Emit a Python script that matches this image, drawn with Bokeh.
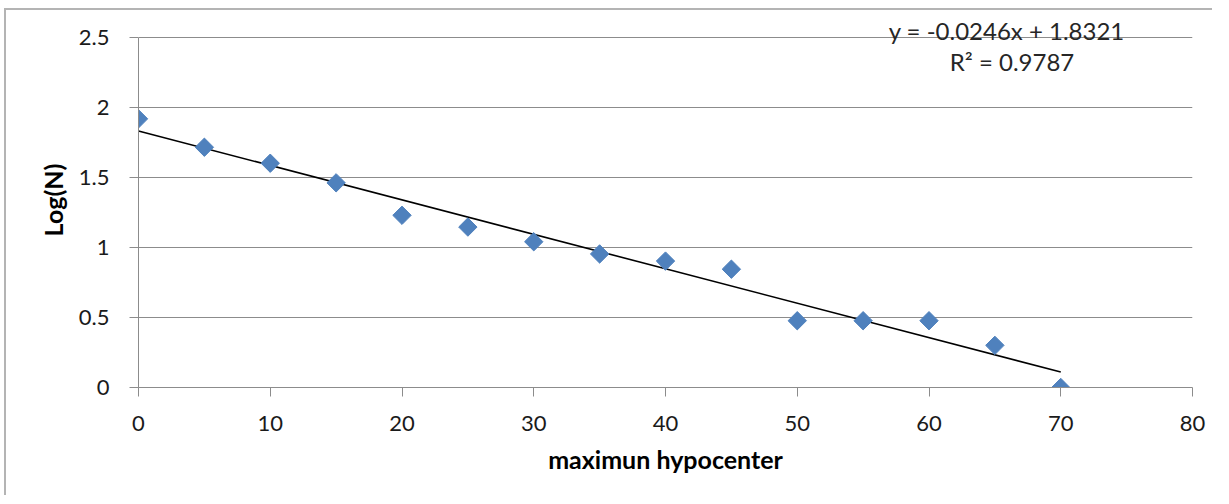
import numpy as np
from bokeh.plotting import figure
from bokeh.models import Label, Range1d, FixedTicker
from bokeh.embed import file_html
from bokeh.resources import INLINE

# ---- data ----
depth = [0, 5, 10, 15, 20, 25, 30, 35, 40, 45, 50, 55, 60, 65, 70]
log_n = [1.919, 1.716, 1.602, 1.462, 1.230, 1.146, 1.041, 0.954, 0.903,
         0.845, 0.477, 0.477, 0.477, 0.301, 0.0]
x_ticks = [0, 10, 20, 30, 40, 50, 60, 70, 80]
y_ticks = [0, 0.5, 1, 1.5, 2, 2.5]
y_labels = ["0", "0.5", "1", "1.5", "2", "2.5"]
slope = -0.0246
intercept = 1.8321
r_squared = 0.9787

FONT = "Lato"
TXT = "#1a1a1a"
GRID = "#8c8c8c"

Y_MAX = 2.5
Y_TOP = Y_MAX + 25 / 140  # extra head-room above the top gridline for the equation

p = figure(
    frame_width=1054, frame_height=375,
    min_border_left=132, min_border_right=20,
    min_border_top=2, min_border_bottom=108,
    x_range=Range1d(0, 80), y_range=Range1d(0, Y_TOP),
    output_backend="svg", toolbar_location=None,
    background_fill_color="white", border_fill_color="white",
    styles={"border-left": "2px solid #b4b4b4", "border-top": "2px solid #b4b4b4",
            "margin-left": "4px", "margin-top": "8px"},
)
p.outline_line_color = None

p.xgrid.grid_line_color = None
p.ygrid.grid_line_color = GRID
p.ygrid.grid_line_width = 1

for ax in (p.xaxis[0], p.yaxis[0]):
    ax.axis_line_color = GRID
    ax.axis_line_width = 1
    ax.major_tick_line_color = GRID
    ax.major_tick_in = 0
    ax.major_tick_out = 9
    ax.minor_tick_line_color = None
    ax.major_label_text_font = FONT
    ax.major_label_text_font_size = "22px"
    ax.major_label_text_color = TXT
    ax.axis_label_text_font = FONT
    ax.axis_label_text_font_size = "25px"
    ax.axis_label_text_font_style = "bold"
    ax.axis_label_text_color = "#000000"

p.xaxis.ticker = FixedTicker(ticks=x_ticks)
p.yaxis.ticker = FixedTicker(ticks=y_ticks)
p.yaxis.bounds = (0, Y_MAX)
p.xaxis.major_label_overrides = {t: str(t) for t in x_ticks}
p.yaxis.major_label_overrides = dict(zip(y_ticks, y_labels))
p.xaxis.major_label_standoff = 19
p.yaxis.major_label_standoff = 20
p.xaxis.axis_label = "maximun hypocenter"
p.yaxis.axis_label = "Log(N)"
p.xaxis.axis_label_standoff = 10
p.yaxis.axis_label_standoff = 8

# trendline
tx = np.array([min(depth), max(depth)], dtype=float)
ty = intercept + slope * tx
p.line(tx, ty, line_color="#000000", line_width=1.6)

# markers (diamonds)
p.scatter(depth, log_n, marker="square", angle=np.pi / 4, size=13,
          fill_color="#4F81BD", line_color="#4F81BD")

# equation labels
p.add_layout(Label(x=65.9, y=2.55, text=f"y = {slope}x + {intercept}",
                   text_align="center", text_baseline="middle",
                   text_font=FONT, text_font_size="24px", text_color="#262626"))
p.add_layout(Label(x=66.3, y=2.33, text=f"R\u00b2 = {r_squared}",
                   text_align="center", text_baseline="middle",
                   text_font=FONT, text_font_size="24px", text_color="#262626"))

open("out.html", "w").write(file_html(p, INLINE))
